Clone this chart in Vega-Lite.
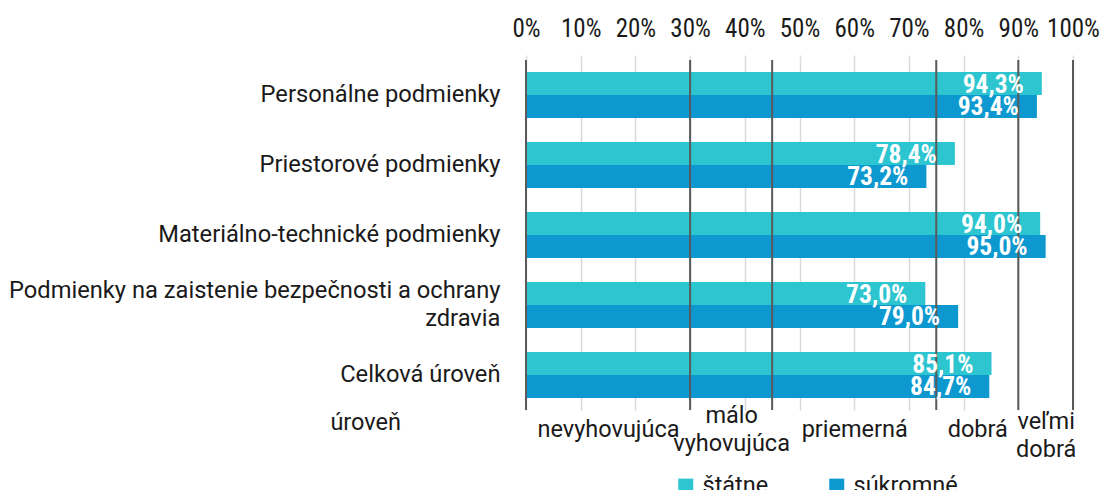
{
  "$schema": "https://vega.github.io/schema/vega-lite/v6.json",
  "width": 547,
  "height": 350,
  "autosize": {"type": "none"},
  "padding": {"left": 526, "top": 60, "right": 29, "bottom": 80},
  "background": "white",
  "config": {
    "view": {"stroke": null},
    "font": "'Roboto Condensed', 'Liberation Sans Narrow', Roboto",
    "locale": {"number": {"decimal": ",", "thousands": " ", "grouping": [3], "currency": ["", " €"]}}
  },
  "datasets": {
    "bars": [
      {"kategoria": "Personálne podmienky", "typ": "štátne", "hodnota": 0.943},
      {"kategoria": "Personálne podmienky", "typ": "súkromné", "hodnota": 0.934},
      {"kategoria": "Priestorové podmienky", "typ": "štátne", "hodnota": 0.784},
      {"kategoria": "Priestorové podmienky", "typ": "súkromné", "hodnota": 0.732},
      {"kategoria": "Materiálno-technické podmienky", "typ": "štátne", "hodnota": 0.94},
      {"kategoria": "Materiálno-technické podmienky", "typ": "súkromné", "hodnota": 0.95},
      {"kategoria": "Podmienky na zaistenie bezpečnosti a ochrany zdravia", "typ": "štátne", "hodnota": 0.73},
      {"kategoria": "Podmienky na zaistenie bezpečnosti a ochrany zdravia", "typ": "súkromné", "hodnota": 0.79},
      {"kategoria": "Celková úroveň", "typ": "štátne", "hodnota": 0.851},
      {"kategoria": "Celková úroveň", "typ": "súkromné", "hodnota": 0.847}
    ],
    "hranice": [
      {"hranica": 0}, {"hranica": 0.3}, {"hranica": 0.45}, {"hranica": 0.75}, {"hranica": 0.9}, {"hranica": 1}
    ]
  },
  "resolve": {"scale": {"x": "independent"}, "axis": {"x": "independent"}},
  "layer": [
    {
      "data": {"name": "bars"},
      "mark": {"type": "bar"},
      "encoding": {
        "y": {
          "field": "kategoria", "type": "nominal", "sort": null,
          "scale": {"paddingInner": 0.343, "paddingOuter": 0.1715},
          "axis": {
            "title": null, "ticks": false, "domain": false, "labelFontSize": 23.7,
            "labelColor": "#1a1a1a", "labelPadding": 26, "labelLimit": 700, "labelLineHeight": 28,
            "labelFont": "Roboto",
            "labelOffset": {"condition": {"test": "datum.value == 'Podmienky na zaistenie bezpečnosti a ochrany zdravia'", "value": -14}, "value": 0},
            "labelExpr": "datum.label == 'Podmienky na zaistenie bezpečnosti a ochrany zdravia' ? ['Podmienky na zaistenie bezpečnosti a ochrany', 'zdravia'] : datum.label"
          }
        },
        "yOffset": {"field": "typ", "type": "nominal", "sort": ["štátne", "súkromné"], "scale": {"paddingInner": 0, "paddingOuter": 0}},
        "x": {
          "field": "hodnota", "type": "quantitative",
          "scale": {"domain": [0, 1], "nice": false, "zero": true},
          "axis": {
            "orient": "top", "title": null, "format": ".0%", "values": [0, 0.1, 0.2, 0.3, 0.4, 0.5, 0.6, 0.7, 0.8, 0.9, 1],
            "domain": false, "ticks": true, "tickColor": "#dddddd", "tickSize": 5, "tickWidth": 1.5,
            "grid": true, "gridColor": "#d9d9d9", "gridWidth": 1.5, "labelOverlap": false, "labelFlush": false,
            "labelFontSize": 25, "labelColor": "#1a1a1a", "labelPadding": 14
          }
        },
        "color": {
          "field": "typ", "type": "nominal",
          "scale": {"domain": ["štátne", "súkromné"], "range": ["#2dc5d0", "#0d99d0"]},
          "legend": {
            "title": null, "orient": "none", "direction": "horizontal", "legendX": 148, "legendY": 414,
            "symbolType": "square", "symbolSize": 225, "symbolStrokeWidth": 0, "labelFontSize": 23.5,
            "labelColor": "#1a1a1a", "labelOffset": 5, "columnPadding": 56, "labelFont": "Roboto"
          }
        }
      }
    },
    {
      "data": {"name": "hranice"},
      "mark": {"type": "rule", "color": "#5a5a5a", "strokeWidth": 2},
      "encoding": {
        "x": {
          "field": "hranica", "type": "quantitative",
          "scale": {"domain": [-0.961609, 1], "range": [-526, 547], "nice": false, "zero": false},
          "axis": {
            "orient": "bottom", "title": null, "grid": false, "ticks": false, "domain": false,
            "values": [-0.294, 0.15, 0.375, 0.6, 0.825, 0.95],
            "labelExpr": "datum.value < 0 ? 'úroveň' : datum.value < 0.2 ? 'nevyhovujúca' : datum.value < 0.4 ? ['málo', 'vyhovujúca'] : datum.value < 0.7 ? 'priemerná' : datum.value < 0.9 ? 'dobrá' : ['veľmi', 'dobrá']",
            "labelFontSize": 23.5, "labelColor": "#1a1a1a", "labelFont": "Roboto",
            "labelBaseline": "middle", "labelLineHeight": 28,
            "labelPadding": {"condition": [
              {"test": "datum.value < 0", "value": 12},
              {"test": "datum.value > 0.3 && datum.value < 0.4", "value": 5},
              {"test": "datum.value > 0.9", "value": 11}
            ], "value": 19},
            "labelAlign": "center", "labelFlush": false, "labelOverlap": false, "labelBound": false
          }
        }
      }
    },
    {
      "data": {"name": "bars"},
      "mark": {"type": "text", "align": "right", "baseline": "middle", "dx": -18, "dy": 1, "fontWeight": "bold", "fontSize": 25.5, "color": "white"},
      "encoding": {
        "y": {"field": "kategoria", "type": "nominal", "sort": null},
        "yOffset": {"field": "typ", "type": "nominal", "sort": ["štátne", "súkromné"]},
        "x": {"field": "hodnota", "type": "quantitative", "scale": {"domain": [0, 1], "nice": false, "zero": true}, "axis": null},
        "text": {"field": "hodnota", "type": "quantitative", "format": ".1%"}
      }
    }
  ]
}
